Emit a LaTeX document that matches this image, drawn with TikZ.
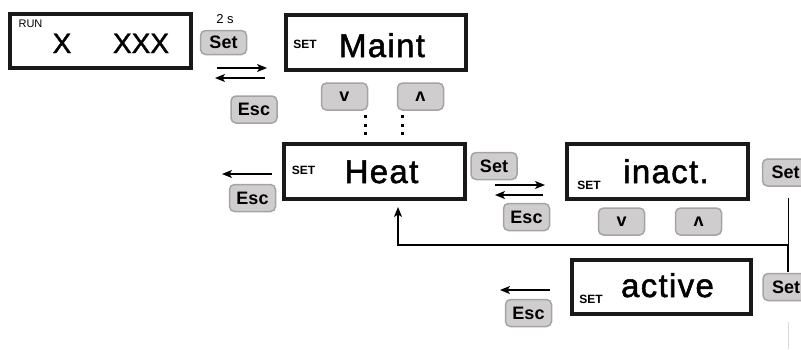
\documentclass[tikz,border=0pt]{standalone}
\usepackage{fontspec}
\setmainfont{Liberation Sans}
\newfontfamily\dispfont[LetterSpace=4,FakeBold=1.6]{Liberation Sans}
\newfontfamily\xfont[FakeBold=1.4]{Liberation Sans}
\newfontfamily\btnfont[FakeBold=0.6]{Liberation Sans}
\usetikzlibrary{arrows.meta}
\definecolor{btnfill}{HTML}{CFCDCD}
\definecolor{btnedge}{HTML}{A5A3A3}
\tikzset{
  disp/.style={draw=black!90, line width=4pt, inner sep=0pt},
  btn/.style={draw=btnedge, fill=btnfill, line width=1.5pt, rounded corners=5pt,
    minimum width=46pt, minimum height=27pt, inner sep=0pt,
    font=\fontsize{18}{18}\selectfont\bfseries},
  arrbtn/.style={btn, font=\fontsize{18}{18}\selectfont\bfseries},
  big/.style={anchor=base, inner sep=0pt, font=\fontsize{33}{33}\selectfont\dispfont},
  setlbl/.style={anchor=base, inner sep=0pt, font=\fontsize{12}{12}\selectfont\bfseries},
  arr/.style={line width=1.3pt, -{Stealth[length=10pt,width=8pt,inset=2.5pt]}},
  dotline/.style={line width=3pt, dash pattern=on 3pt off 5.5pt}
}
\begin{document}
\begin{tikzpicture}[x=1pt,y=-1pt]
\useasboundingbox (0,0) rectangle (801,349);
% displays
\node[disp, minimum width=181pt, minimum height=54pt] (run) at (100,41) {};
\node[disp, minimum width=180pt, minimum height=55pt] (maint) at (376,42.5) {};
\node[disp, minimum width=181pt, minimum height=55pt] (heat) at (374.5,171.5) {};
\node[disp, minimum width=181pt, minimum height=55pt] (inact) at (657.5,171.5) {};
\node[disp, minimum width=179pt, minimum height=54pt] (active) at (661.5,287) {};
% display texts
\node[anchor=base, inner sep=0pt, font=\fontsize{11}{11}\selectfont] (runlbl) at (30.5,27) {RUN};
\node[anchor=base, inner sep=0pt, font=\fontsize{28}{28}\selectfont\xfont] (x1) at (62,53) {X};
\node[anchor=base, inner sep=0pt, font=\fontsize{28}{28}\selectfont\xfont] (x3) at (141,53) {XXX};
\node[setlbl] (s1) at (305,48) {SET};
\node[big] (t1) at (382,57) {Maint};
\node[setlbl] (s2) at (303.5,174) {SET};
\node[big] (t2) at (381.5,183) {Heat};
\node[setlbl] (s3) at (589,189) {SET};
\node[big] (t3) at (666,183) {inact.};
\node[setlbl] (s4) at (591,303) {SET};
\node[big] (t4) at (667.5,297) {active};
% buttons
\node[anchor=base, inner sep=0pt, font=\fontsize{13}{13}\selectfont] (two) at (225,23) {2 s};
\node[btn, minimum height=24pt] (set1) at (223.5,42.5) {Set};
\node[btn] (esc1) at (254,109.5) {Esc};
\node[arrbtn] (v1) at (344.5,96.5) {v};
\node[arrbtn] (up1) at (420.5,96.5) {ʌ};
\node[btn] (esc2) at (252.5,198) {Esc};
\node[btn] (set2) at (494,166) {Set};
\node[btn] (esc3) at (526.5,217) {Esc};
\node[arrbtn] (v2) at (621.5,221.5) {v};
\node[arrbtn] (up2) at (698.5,221.5) {ʌ};
\node[btn] (set3) at (785.5,172.5) {Set};
\node[btn] (set4) at (786,287) {Set};
\node[btn] (esc4) at (528.5,313) {Esc};
% arrows
\coordinate (a1s) at (217,68); \coordinate (a1e) at (267,68);
\coordinate (a2s) at (265,78); \coordinate (a2e) at (215,78);
\draw[arr] (a1s) -- (a1e);
\draw[arr] (a2s) -- (a2e);
\coordinate (a3s) at (272,174); \coordinate (a3e) at (222,174);
\draw[arr] (a3s) -- (a3e);
\coordinate (a4s) at (495,185); \coordinate (a4e) at (545,185);
\coordinate (a5s) at (543,195); \coordinate (a5e) at (495,195);
\draw[arr] (a4s) -- (a4e);
\draw[arr] (a5s) -- (a5e);
\coordinate (a6s) at (550,290); \coordinate (a6e) at (500,290);
\draw[arr] (a6s) -- (a6e);
% dots
\coordinate (d1s) at (365,115); \coordinate (d1e) at (365,138);
\coordinate (d2s) at (402,115); \coordinate (d2e) at (402,138);
\draw[dotline] (d1s) -- (d1e);
\draw[dotline] (d2s) -- (d2e);
% feedback
\coordinate (fbtop) at (788,198);
\coordinate (fbmid) at (788,245);
\coordinate (fbbot) at (788,272);
\coordinate (fbleft) at (398,245);
\coordinate (fbtip) at (398,207);
\draw[line width=1pt] (fbtop) -- (fbmid);
\draw[line width=1.6pt] (fbmid) -- (fbbot);
\draw[arr] (fbmid) -- (fbleft) -- (fbtip);
\coordinate (g1) at (788,322); \coordinate (g2) at (788,349);
\draw[black!15, line width=0.8pt] (g1) -- (g2);
\end{tikzpicture}
\end{document}
